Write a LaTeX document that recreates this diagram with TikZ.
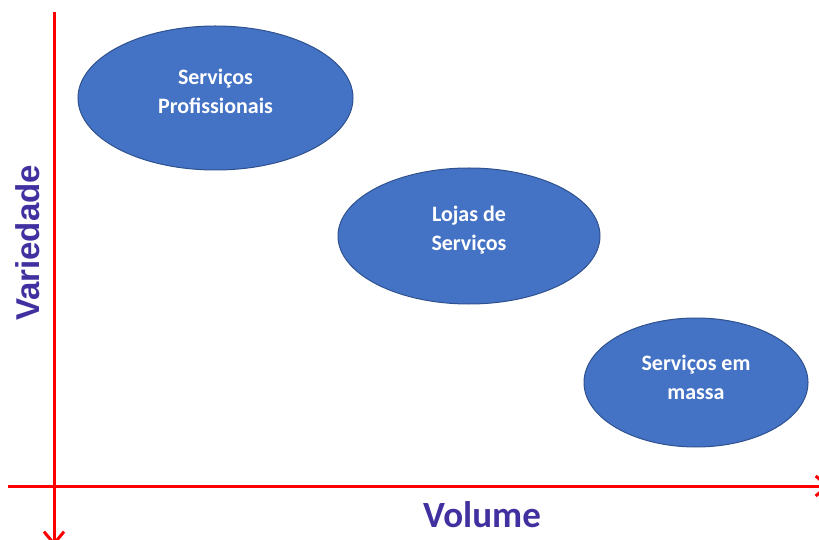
\documentclass[tikz,border=0pt]{standalone}
\usepackage{fontspec}
\setmainfont{Carlito}
\newfontfamily\arialf{Liberation Sans}
\usetikzlibrary{shapes.geometric,arrows.meta}
\definecolor{axisred}{RGB}{255,0,0}
\definecolor{fillblue}{RGB}{68,114,196}
\definecolor{edgeblue}{RGB}{47,82,143}
\definecolor{labpurple}{RGB}{64,48,160}
\tikzset{
 blob/.style={ellipse, draw=edgeblue, line width=1bp, fill=fillblue, inner sep=0pt},
 blobtext/.style={text=white, font=\bfseries\fontsize{22bp}{29bp}\selectfont, align=center},
 axisline/.style={draw=axisred, line width=3bp, -{Straight Barb[length=12bp,width=20bp]}},
 axislabel/.style={text=labpurple, inner sep=0pt},
}
\begin{document}
\begin{tikzpicture}[x=1bp,y=-1bp]
\useasboundingbox (0,0) rectangle (819,540);
\clip (0,0) rectangle (819,540);
% axes
\coordinate (ytop) at (54,12);
\coordinate (yend) at (54,546);
\coordinate (xstart) at (8,486);
\coordinate (xend) at (830,486);
\draw[axisline] (ytop) -- (yend);
\draw[axisline] (xstart) -- (xend);
% ellipses
\node[blob, minimum width=275bp, minimum height=144bp] (e1) at (215.5,98) {};
\node[blobtext] (t1) at ([yshift=7bp]e1.center) {Serviços\\Profissionais};
\node[blob, minimum width=262bp, minimum height=136bp] (e2) at (469,236) {};
\node[blobtext] (t2) at ([yshift=6bp]e2.center) {Lojas de\\Serviços};
\node[blob, minimum width=224bp, minimum height=129bp] (e3) at (696,382.5) {};
\node[blobtext] (t3) at ([yshift=5bp]e3.center) {Serviços em\\massa};
% axis labels
\node[axislabel, rotate=90, font=\arialf\bfseries\fontsize{33bp}{40bp}\selectfont] (vlab) at (27.5,243) {Variedade};
\node[axislabel, font=\bfseries\fontsize{37bp}{44bp}\selectfont] (hlab) at (482,515) {Volume};
\end{tikzpicture}
\end{document}
